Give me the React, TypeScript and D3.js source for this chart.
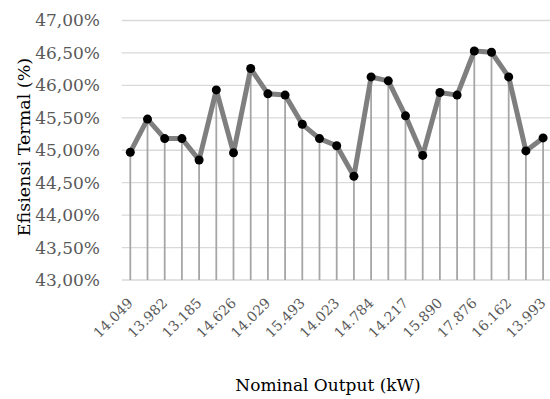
import React from "react";
import * as d3 from "d3";

const efficiency: number[] = [
  44.97, 45.48, 45.18, 45.18, 44.85, 45.93, 44.96, 46.26, 45.87, 45.85,
  45.40, 45.18, 45.07, 44.60, 46.13, 46.07, 45.53, 44.92, 45.89, 45.85,
  46.53, 46.51, 46.13, 44.99, 45.19,
];
const tickLabels: string[] = [
  "14.049", "13.982", "13.185", "14.626", "14.029", "15.493", "14.023",
  "14.784", "14.217", "15.890", "17.876", "16.162", "13.993",
];
const yTicks: number[] = [43, 43.5, 44, 44.5, 45, 45.5, 46, 46.5, 47];

const W = 550;
const H = 399;
const plotLeft = 121.7;
const plotRight = 551.7;
const plotTop = 20.5;
const plotBottom = 280;

const FONT = "'DejaVu Serif', serif";

export default function App() {
  const idx = efficiency.map((_, i) => i);
  const x = d3.scaleBand<number>().domain(idx).range([plotLeft, plotRight]).padding(0);
  const y = d3.scaleLinear().domain([43, 47]).range([plotBottom, plotTop]);
  const cx = (i: number) => (x(i) as number) + x.bandwidth() / 2;
  const line = d3
    .line<number>()
    .x((_, i) => cx(i))
    .y((d) => y(d));
  const fmt = (v: number) => v.toFixed(2).replace(".", ",") + "%";
  const c = Math.SQRT1_2;

  return (
    <svg
      width={W}
      height={H}
      style={{ position: "absolute", left: 0, top: 0, background: "#fff" }}
      fontFamily={FONT}
    >
      {yTicks.map((t) => (
        <g key={t}>
          <line x1={plotLeft} x2={W} y1={y(t)} y2={y(t)} stroke="#d9d9d9" strokeWidth={1.3} />
          <text x={100} y={y(t)} dy="0.35em" textAnchor="end" fontSize={17} fill="#595959" fontFamily={FONT}>
            {fmt(t)}
          </text>
        </g>
      ))}
      {efficiency.map((v, i) => (
        <line key={"d" + i} x1={cx(i)} x2={cx(i)} y1={y(v)} y2={plotBottom} stroke="#a6a6a6" strokeWidth={1.8} />
      ))}
      <path d={line(efficiency) || ""} fill="none" stroke="#7f7f7f" strokeWidth={5} strokeLinejoin="round" />
      {efficiency.map((v, i) => (
        <circle key={"c" + i} cx={cx(i)} cy={y(v)} r={4.5} fill="#000" />
      ))}
      {tickLabels.map((lab, k) => {
        const i = k * 2;
        const tx = +(cx(i) + 3.5).toFixed(1);
        const ty = 304;
        return (
          <g key={"x" + k} transform={`matrix(${c},${-c},${c},${c},${tx},${ty})`}>
            <text x={0} y={0} textAnchor="end" fontSize={14} fill="#595959" fontFamily={FONT}>
              {lab}
            </text>
          </g>
        );
      })}
      <text
        x={30}
        y={147}
        transform="rotate(-90 30 147)"
        textAnchor="middle"
        fontSize={17.5}
        fill="#000"
        fontFamily={FONT}
      >
        Efisiensi Termal (%)
      </text>
      <text x={328} y={391} textAnchor="middle" fontSize={17} fill="#000" fontFamily={FONT}>
        Nominal Output (kW)
      </text>
    </svg>
  );
}
